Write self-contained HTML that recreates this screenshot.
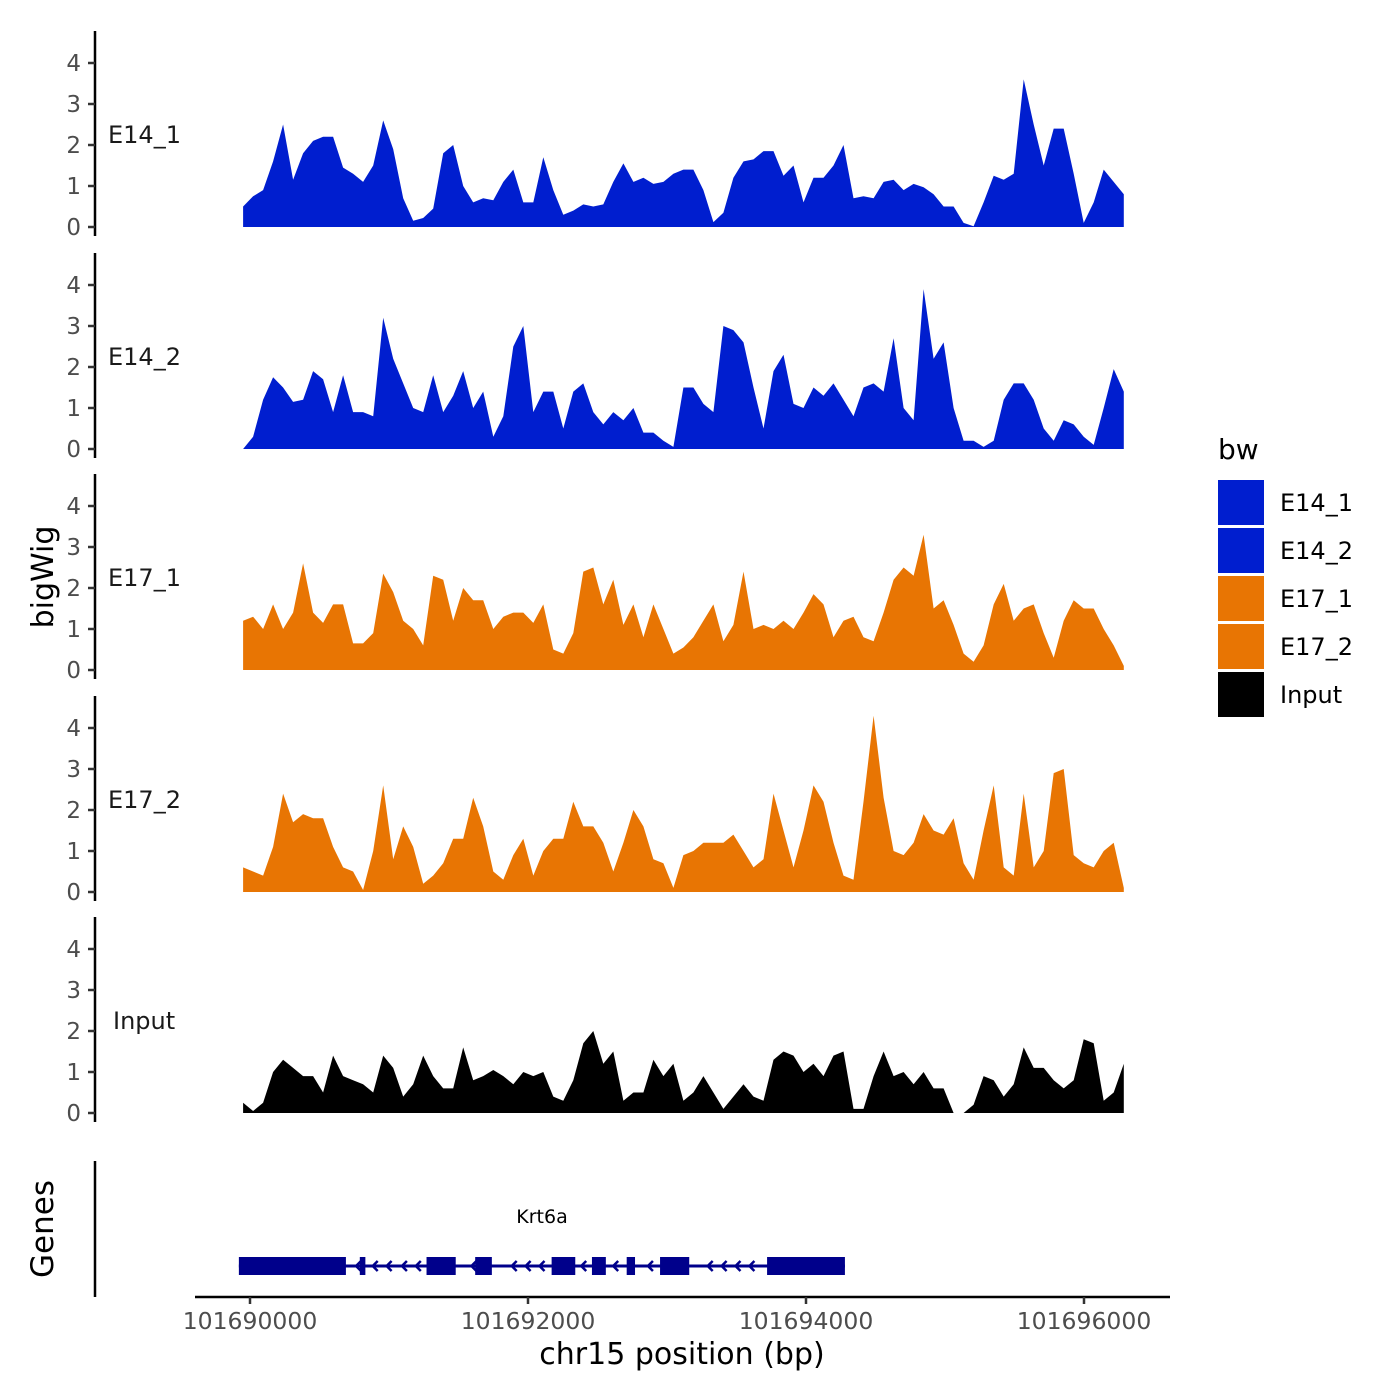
<!DOCTYPE html>
<html><head><meta charset="utf-8"><style>
html,body{margin:0;padding:0;background:#fff;}
svg{display:block;font-family:"DejaVu Sans","Liberation Sans",sans-serif;}
</style></head><body>
<svg id="chart" width="1400" height="1400" viewBox="0 0 1400 1400"></svg>
<script>
// ---- data ----
const seriesNames = ["E14_1","E14_2","E17_1","E17_2","Input"];
const seriesColors = ["#001ECF","#001ECF","#E87503","#E87503","#000000"];
const startBp = 101689950;
const stepBp = 72;
const e14_1 = [.5,.75,.9,1.6,2.5,1.15,1.8,2.1,2.2,2.2,1.45,1.3,1.1,1.5,2.6,1.9,.7,.15,.22,.45,1.8,2.0,1.0,.6,.7,.65,1.1,1.4,.6,.6,1.7,.9,.3,.4,.55,.5,.55,1.1,1.55,1.1,1.2,1.05,1.1,1.3,1.4,1.4,.9,.12,.35,1.2,1.6,1.65,1.85,1.85,1.25,1.5,.6,1.2,1.2,1.5,2.0,.7,.75,.7,1.1,1.15,.9,1.05,.97,.8,.5,.5,.1,.02,.6,1.25,1.15,1.3,3.6,2.5,1.5,2.4,2.4,1.3,.1,.6,1.4,1.1,.8];
const e14_2 = [0,.3,1.2,1.75,1.5,1.15,1.2,1.9,1.7,.9,1.8,.9,.9,.8,3.2,2.2,1.6,1.0,.9,1.8,.9,1.3,1.9,1.0,1.4,.3,.8,2.5,3.0,.9,1.4,1.4,.5,1.4,1.6,.9,.6,.9,.7,1.0,.4,.4,.2,.05,1.5,1.5,1.1,.9,3.0,2.9,2.6,1.5,.5,1.9,2.3,1.1,1.0,1.5,1.3,1.6,1.2,.8,1.5,1.6,1.4,2.7,1.0,.7,3.9,2.2,2.6,1.0,.2,.2,.05,.2,1.2,1.6,1.6,1.2,.5,.2,.7,.6,.3,.1,1.0,1.95,1.4];
const e17_1 = [1.2,1.3,1.0,1.6,1.0,1.4,2.6,1.4,1.15,1.6,1.6,.65,.65,.9,2.35,1.9,1.2,1.0,.6,2.3,2.2,1.2,2.0,1.7,1.7,1.0,1.3,1.4,1.4,1.15,1.6,.5,.4,.9,2.4,2.5,1.6,2.2,1.1,1.6,.8,1.6,1.0,.4,.55,.8,1.2,1.6,.7,1.1,2.4,1.0,1.1,1.0,1.2,1.0,1.4,1.85,1.6,.8,1.2,1.3,.8,.7,1.4,2.2,2.5,2.3,3.3,1.5,1.7,1.1,.4,.2,.6,1.6,2.1,1.2,1.5,1.6,.9,.3,1.2,1.7,1.5,1.5,1.0,.6,.1];
const e17_2 = [.6,.5,.4,1.1,2.4,1.7,1.9,1.8,1.8,1.1,.6,.5,.05,1.0,2.6,.8,1.6,1.1,.2,.4,.7,1.3,1.3,2.3,1.6,.5,.3,.9,1.3,.4,1.0,1.3,1.3,2.2,1.6,1.6,1.2,.5,1.2,2.0,1.6,.8,.7,.1,.9,1.0,1.2,1.2,1.2,1.4,1.0,.6,.8,2.4,1.5,.6,1.5,2.6,2.2,1.2,.4,.3,2.2,4.3,2.3,1.0,.9,1.2,1.9,1.5,1.4,1.8,.7,.3,1.5,2.6,.6,.4,2.4,.6,1.0,2.9,3.0,.9,.7,.6,1.0,1.2,.1];
const input = [.25,.05,.25,1.0,1.3,1.1,.9,.9,.5,1.4,.9,.8,.7,.5,1.4,1.1,.4,.7,1.4,.9,.6,.6,1.6,.8,.9,1.05,.9,.7,1.0,.9,1.0,.4,.3,.8,1.7,2.0,1.2,1.5,.3,.5,.5,1.3,.9,1.2,.3,.5,.9,.5,.1,.4,.7,.4,.3,1.3,1.5,1.4,1.0,1.2,.9,1.4,1.5,.1,.1,.9,1.5,.9,1.0,.7,1.0,.6,.6,0,0,.2,.9,.8,.4,.7,1.6,1.1,1.1,.8,.6,.8,1.8,1.7,.3,.5,1.2];
const yTicks = [0,1,2,3,4];
const xTicks = [101690000,101692000,101694000,101696000];
const geneExons = [[101689920,101690690],[101690790,101690830],[101691270,101691480],[101691620,101691740],[101692170,101692340],[101692460,101692560],[101692710,101692770],[101692950,101693160],[101693720,101694280]];
const geneArrows = [101690770,101690890,101690990,101691100,101691200,101691600,101691890,101691990,101692090,101692390,101692620,101692870,101693300,101693400,101693500,101693600];
const geneName = "Krt6a";
const allSeries = [e14_1,e14_2,e17_1,e17_2,input];

// ---- scales ----
const NS="http://www.w3.org/2000/svg";
const svg=document.getElementById('chart');
function xs(bp){return 250+(bp-101690000)*0.139;}
const baseY=[227,449,670,892,1113];
function ys(i,v){return baseY[i]-v*41;}
function mk(tag,attrs,parent){const e=document.createElementNS(NS,tag);for(const k in attrs)e.setAttribute(k,attrs[k]);(parent||svg).appendChild(e);return e;}

for(let i=0;i<5;i++){
  const g=mk('g',{});
  
  
  const vals=allSeries[i];
  let d='M'+xs(startBp).toFixed(1)+','+baseY[i];
  for(let j=0;j<vals.length;j++){d+=' L'+xs(startBp+j*stepBp).toFixed(1)+','+ys(i,vals[j]).toFixed(1);}
  d+=' L'+xs(startBp+(vals.length-1)*stepBp).toFixed(1)+','+baseY[i]+' Z';
  const p=mk('path',{d:d,fill:seriesColors[i]},g);
  
  
  const ax=mk('line',{x1:95,x2:95,y1:baseY[i]-196,y2:baseY[i]+9,stroke:'#000','stroke-width':2.5},g);
  
  
  for(const t of yTicks){
    const y=ys(i,t);
    const tk=mk('line',{x1:88,x2:95,y1:y,y2:y,stroke:'#333','stroke-width':2.5},g);
    
    
    const tl=mk('text',{x:81,y:y+8,'text-anchor':'end','font-size':23,fill:'#4d4d4d'},g);
    tl.textContent=t;
    
    
  }
  const lab=mk('text',{x:i==4?113:108,y:ys(i,2.25)+8,'font-size':24,fill:'#1a1a1a'},g);
  lab.textContent=seriesNames[i];
  
  
}

// gene track
const gg=mk('g',{});


const gax=mk('line',{x1:95,x2:95,y1:1161,y2:1297,stroke:'#000','stroke-width':2.5},gg);


const gl=mk('line',{x1:xs(geneExons[0][0]),x2:xs(geneExons[geneExons.length-1][1]),y1:1266,y2:1266,stroke:'#00008B','stroke-width':3},gg);


for(const ex of geneExons){
  const r=mk('rect',{x:xs(ex[0]),y:1257,width:xs(ex[1])-xs(ex[0]),height:18,fill:'#00008B'},gg);
  
  
}
for(const a of geneArrows){
  const x=xs(a);
  const pa=mk('path',{d:`M${x+4},${1261} L${x-1},${1266} L${x+4},${1271}`,fill:'none',stroke:'#00008B','stroke-width':2.5},gg);
  
  
}
const gn=mk('text',{x:542,y:1223,'text-anchor':'middle','font-size':19,fill:'#000'},gg);
gn.textContent=geneName;



// x axis
const xl=mk('line',{x1:195,x2:1170,y1:1297,y2:1297,stroke:'#000','stroke-width':2.5});


for(const t of xTicks){
  const x=xs(t);
  const tk=mk('line',{x1:x,x2:x,y1:1297,y2:1304,stroke:'#333','stroke-width':2.5});
  
  
  const tl=mk('text',{x:x,y:1329,'text-anchor':'middle','font-size':23.5,fill:'#4d4d4d'});
  tl.textContent=t;
  
  
}
const xt=mk('text',{x:682,y:1364,'text-anchor':'middle','font-size':30,fill:'#000'});
xt.textContent='chr15 position (bp)';


const yt=mk('text',{x:53,y:577,'text-anchor':'middle','font-size':30,fill:'#000',transform:'rotate(-90 53 577)'});
yt.textContent='bigWig';


const gt=mk('text',{x:53,y:1229,'text-anchor':'middle','font-size':31,fill:'#000',transform:'rotate(-90 53 1229)'});
gt.textContent='Genes';



// legend
const lg=mk('g',{});


const lt=mk('text',{x:1218,y:459,'font-size':28,fill:'#000'},lg);
lt.textContent='bw';


for(let i=0;i<5;i++){
  const y=480+i*48;
  const r=mk('rect',{x:1218,y:y,width:46,height:45,fill:seriesColors[i]},lg);
  
  
  const t=mk('text',{x:1280,y:y+31,'font-size':24,fill:'#000'},lg);
  t.textContent=seriesNames[i];
  
  
}
</script>
</body></html>
